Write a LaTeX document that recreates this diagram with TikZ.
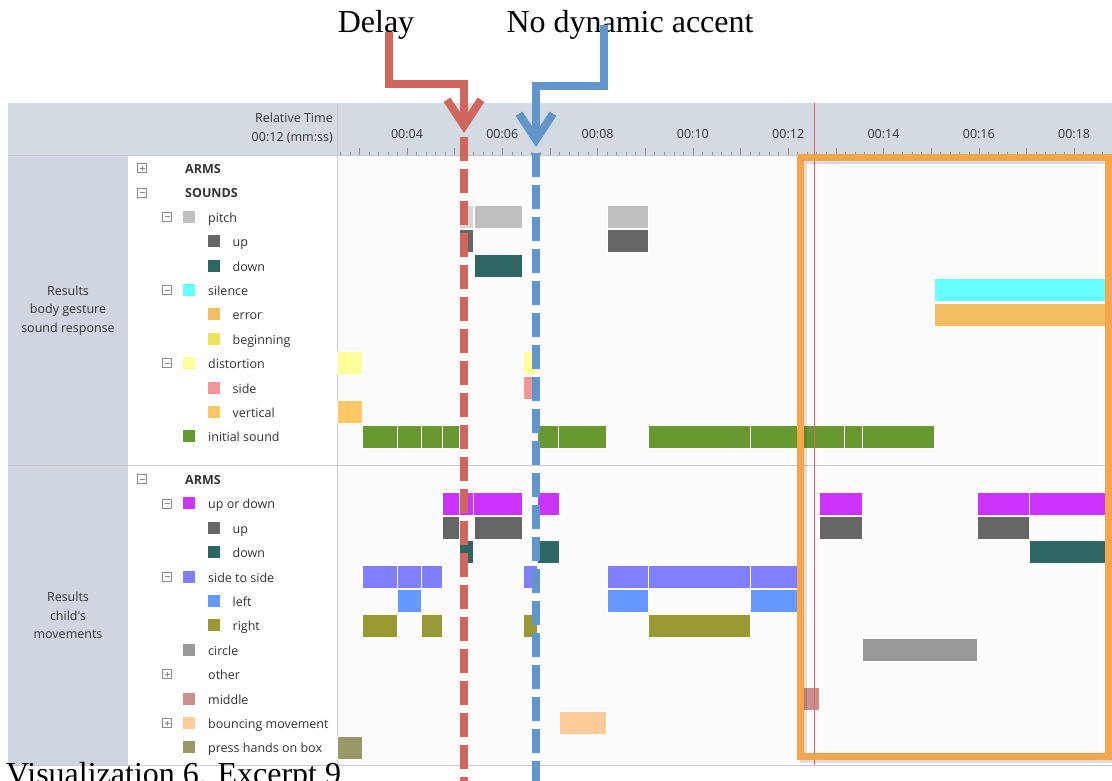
\documentclass[tikz,border=0pt]{standalone}
\usepackage{fontspec}
\setmainfont{Liberation Serif}
\newfontfamily\uifont{Open Sans}
\usetikzlibrary{arrows.meta}
\definecolor{hdrgray}{RGB}{212,218,226}
\definecolor{panelgray}{RGB}{207,214,224}
\definecolor{gridgray}{RGB}{200,203,208}
\definecolor{bodywhite}{RGB}{252,252,252}
\definecolor{treetext}{RGB}{51,51,51}
\definecolor{boxgray}{RGB}{140,140,140}
\definecolor{cpitch}{RGB}{192,192,192}
\definecolor{cpitchlt}{RGB}{215,215,215}
\definecolor{cup}{RGB}{102,102,102}
\definecolor{cdown}{RGB}{46,102,100}
\definecolor{csilence}{RGB}{102,255,255}
\definecolor{cerror}{RGB}{242,190,96}
\definecolor{cbegin}{RGB}{240,226,90}
\definecolor{cdistort}{RGB}{255,255,153}
\definecolor{cside}{RGB}{245,150,150}
\definecolor{cvert}{RGB}{255,200,100}
\definecolor{cinit}{RGB}{104,153,48}
\definecolor{cupdown}{RGB}{204,51,255}
\definecolor{csidetoside}{RGB}{128,128,255}
\definecolor{cleft}{RGB}{102,153,255}
\definecolor{cright}{RGB}{153,153,51}
\definecolor{ccircle}{RGB}{153,153,153}
\definecolor{cmiddle}{RGB}{204,143,143}
\definecolor{cbounce}{RGB}{255,204,153}
\definecolor{cpress}{RGB}{153,153,102}
\definecolor{cother}{RGB}{255,255,255}
\definecolor{delayred}{RGB}{208,102,94}
\definecolor{accentblue}{RGB}{96,150,202}
\definecolor{focusorange}{RGB}{248,166,76}
\definecolor{playhead}{RGB}{232,96,112}
\begin{document}
\begin{tikzpicture}[x=1pt, y=-1pt,
	treelab/.style={anchor=base west, inner sep=0pt, text=treetext, font=\uifont\fontsize{12.5}{15}\selectfont},
	sidelab/.style={align=center, inner sep=0pt, text=treetext, font=\uifont\fontsize{12.5}{18.5}\selectfont},
	ticklab/.style={inner sep=0pt, text=treetext, font=\uifont\fontsize{12.5}{15}\selectfont},
	headline/.style={inner sep=0pt, font=\fontsize{32}{36}\selectfont},
	gridline/.style={gridgray, line width=1pt},
	expbox/.style={boxgray, line width=0.8pt, fill=white},
	segbar/.style={draw=white, line width=0.7pt},
	focusbox/.style={focusorange, line width=7pt},
	delayarrow/.style={delayred, line width=8pt, line join=miter, -{Straight Barb[length=26pt,width=34pt]}},
	accentarrow/.style={accentblue, line width=8pt, line join=miter, -{Straight Barb[length=26pt,width=34pt]}},
	delayline/.style={delayred, line width=8pt, dash pattern=on 24pt off 8pt},
	accentline/.style={accentblue, line width=8pt, dash pattern=on 24pt off 8pt}]
	\useasboundingbox (0,0) rectangle (1112,780);
	\fill[white] (0,0) rectangle (1112,780);
	
	\coordinate[](delaytip) at (464,133) ;
	\coordinate[](delayend) at (464,790) ;
	\coordinate[](accenttip) at (536,147) ;
	\coordinate[](accentend) at (536,790) ;
	
	\fill[hdrgray] (8,103) rectangle (1112,155);
	\fill[panelgray] (8,155) rectangle (128,765);
	\fill[white] (128,155) rectangle (337,765);
	\fill[bodywhite] (337,155) rectangle (1112,765);
	\draw[gridline] (8,155) -- (1112,155);
	\draw[gridline] (8,465) -- (1112,465);
	\draw[gridline] (8,765) -- (1112,765);
	\draw[gridline] (337,103) -- (337,765);
	
	\foreach \k in {-7,...,73}
		\draw[boxgray, line width=0.6pt] ({407+\k*9.53},155) -- ({407+\k*9.53},152);
	\foreach \s in {3,...,18}
		\draw[boxgray, line width=0.6pt] ({407+(\s-4)*47.65},155) -- ({407+(\s-4)*47.65},148);
	\foreach \s/\lab in {4/00:04, 6/00:06, 8/00:08, 10/00:10, 12/00:12, 14/00:14, 16/00:16, 18/00:18}
		\node[ticklab] (tick\s) at ({407+(\s-4)*47.65},134) {\lab};
	\node[ticklab, anchor=base east] (reltime) at (333,122) {Relative Time};
	\node[ticklab, anchor=base east] (relscale) at (333,141) {00:12 (mm:ss)};
	
	\node[sidelab] (grpsound) at (68,310.5) {Results\\body gesture\\sound response};
	\node[sidelab] (grpmove) at (68,615.5) {Results\\child's\\movements};
	
	\foreach \x/\y in {142/192.4, 167/216.8, 167/290, 167/363.2, 142/479, 167/503.4, 167/576.6} {
		\draw[expbox] (\x-4.5,\y-4.5) rectangle (\x+4.5,\y+4.5);
		\draw[boxgray, line width=0.8pt] (\x-2.5,\y) -- (\x+2.5,\y);
	}
	\foreach \x/\y in {142/168, 167/674.2, 167/723} {
		\draw[expbox] (\x-4.5,\y-4.5) rectangle (\x+4.5,\y+4.5);
		\draw[boxgray, line width=0.8pt] (\x-2.5,\y) -- (\x+2.5,\y) (\x,\y-2.5) -- (\x,\y+2.5);
	}
	\node[treelab, font=\uifont\bfseries\fontsize{12.5}{15}\selectfont] (armsa) at (185,173) {ARMS};
	\node[treelab, font=\uifont\bfseries\fontsize{12.5}{15}\selectfont] (sounds) at (185,197.4) {SOUNDS};
	\node[treelab, font=\uifont\bfseries\fontsize{12.5}{15}\selectfont] (armsb) at (185,484) {ARMS};
	\foreach \y/\sx/\c/\t [count=\n] in {216.8/189/cpitch/pitch, 241.2/213.5/cup/up, 265.6/213.5/cdown/down,
		290/189/csilence/silence, 314.4/213.5/cerror/error, 338.8/213.5/cbegin/beginning,
		363.2/189/cdistort/distortion, 387.6/213.5/cside/side, 412/213.5/cvert/vertical,
		436.4/189/cinit/initial sound,
		503.4/189/cupdown/up or down, 527.8/213.5/cup/up, 552.2/213.5/cdown/down,
		576.6/189/csidetoside/side to side, 601/213.5/cleft/left, 625.4/213.5/cright/right,
		649.8/189/ccircle/circle, 674.2/189/cother/other, 698.6/189/cmiddle/middle,
		723/189/cbounce/bouncing movement, 747.4/189/cpress/press hands on box} {
		\fill[\c] (\sx-6,\y-6) rectangle (\sx+6,\y+6);
		\node[treelab] (item\n) at (\sx+19,\y+5.5) {\t};
	}
	
	\foreach \xa/\xb/\yc/\c in {459/473/216.8/cpitchlt, 474/522/216.8/cpitch, 607/648/216.8/cpitch,
		459/473/241.2/cup, 607/648/241.2/cup, 474/522/265.6/cdown,
		934/1107/290/csilence, 934/1107/314.4/cerror,
		337/362/363.2/cdistort, 523/536/363.2/cdistort, 523/537/387.6/cside, 337/362/412/cvert,
		362/397/436.4/cinit, 397/421/436.4/cinit, 421/442/436.4/cinit, 442/459/436.4/cinit,
		537/558/436.4/cinit, 558/606/436.4/cinit, 648/750/436.4/cinit, 750/844/436.4/cinit,
		844/862/436.4/cinit, 862/934/436.4/cinit,
		442/459/503.4/cupdown, 459/473/503.4/cupdown, 473/522/503.4/cupdown, 537/559/503.4/cupdown,
		819/862/503.4/cupdown, 977/1029/503.4/cupdown, 1029/1107/503.4/cupdown,
		442/459/527.8/cup, 474/522/527.8/cup, 819/862/527.8/cup, 977/1029/527.8/cup,
		459/473/552.2/cdown, 537/559/552.2/cdown, 1029/1107/552.2/cdown,
		362/397/576.6/csidetoside, 397/421/576.6/csidetoside, 421/442/576.6/csidetoside,
		523/537/576.6/csidetoside, 607/648/576.6/csidetoside, 648/750/576.6/csidetoside,
		750/799/576.6/csidetoside,
		397/421/601/cleft, 607/648/601/cleft, 750/799/601/cleft,
		362/397/625.4/cright, 421/442/625.4/cright, 523/537/625.4/cright, 648/750/625.4/cright,
		862/977/649.8/ccircle, 803/819/698.6/cmiddle, 559/606/723/cbounce, 337/362/747.4/cpress}
		\fill[\c, segbar] (\xa,\yc-11.5) rectangle (\xb,\yc+11.5);
	
	\draw[playhead, line width=1pt] (814,103) -- (814,765);
	
	\draw[black, opacity=0.12, line width=7pt] (803,160) rectangle (1111,759.5);
	\draw[focusbox] (800.5,157) rectangle (1108.5,756.5);
	
	\draw[delayline] ([yshift=-4pt]delaytip) -- (delayend);
	\draw[accentline] ([yshift=-6pt]accenttip) -- (accentend);
	
	\node[headline, anchor=base] (delay) at (376,32) {Delay};
	\node[headline, anchor=base] (nodyn) at (630,32) {No dynamic accent};
	\draw[delayarrow] ([xshift=13pt]delay.base) |- (464,84) -- (delaytip);
	\draw[accentarrow] ([xshift=-26pt, yshift=7pt]nodyn.base) |- (536,86) -- (accenttip);
	
	\node[headline, anchor=base west] (caption) at (6,784) {Visualization 6. Excerpt 9};
\end{tikzpicture}
\end{document}
